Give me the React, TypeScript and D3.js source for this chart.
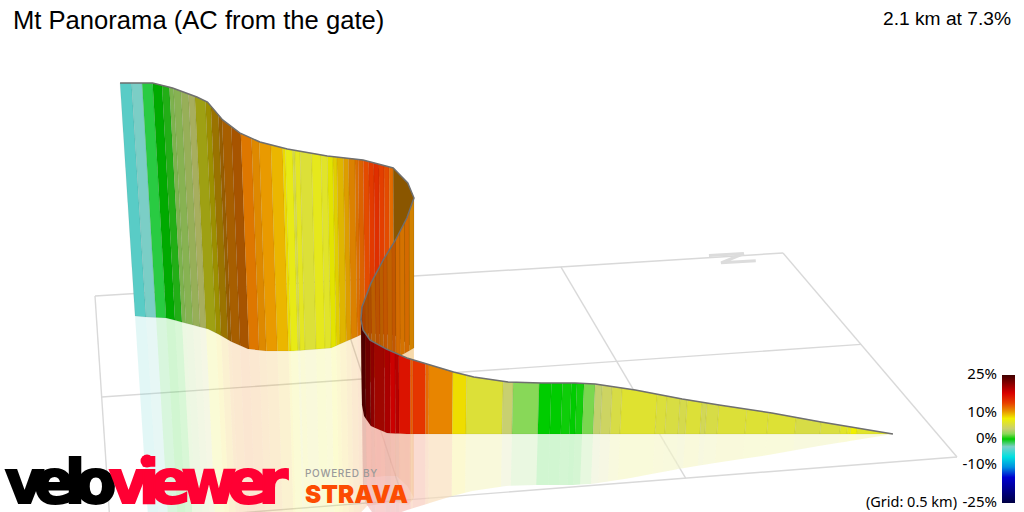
import * as d3 from "d3";

const W = 1024;
const H = 512;

// route stations, start of the climb first (km on the floor grid, metres of climb)
const routeEast = [1.42, 1.2887, 1.1988, 1.1034, 1.0368, 0.9522, 0.8801, 0.8441, 0.7847, 0.7253, 0.6641, 0.6281, 0.5867, 0.5453, 0.5099, 0.4851, 0.4782, 0.4809, 0.4905, 0.515, 0.5457, 0.5759, 0.6017, 0.6183, 0.6096, 0.5887, 0.5325, 0.4557, 0.3797, 0.329, 0.2927, 0.2642, 0.2396, 0.2214, 0.1775, 0.1406, 0.1004, 0.0785];
const routeNorth = [0.8933, 0.8717, 0.8568, 0.8411, 0.8301, 0.8162, 0.8042, 0.7983, 0.7885, 0.7787, 0.7686, 0.7627, 0.7558, 0.749, 0.739, 0.7056, 0.6619, 0.6146, 0.5584, 0.5077, 0.4568, 0.414, 0.3892, 0.3723, 0.3511, 0.3026, 0.2833, 0.3455, 0.3477, 0.3393, 0.3235, 0.2842, 0.24, 0.2115, 0.1733, 0.1412, 0.1293, 0.1204];
const routeElev = [0, 7, 12.2, 16.8, 20.3, 25.5, 29, 29.6, 29.6, 30.1, 33, 35.9, 40, 44.1, 48.7, 50.2, 50.7, 51, 51.3, 59.3, 66.8, 73.7, 84.2, 94.7, 102, 106.8, 110.9, 121.2, 127.1, 131.5, 136.2, 141, 148.5, 149.3, 152.2, 153, 152.5, 152];

// gradient bands along the route: where each one ends (km) and its gradient (%)
const bandEnd = [
  0.066, 0.078, 0.084, 0.097, 0.133, 0.179, 0.23, 0.27, 0.321, 0.343, 0.352, 0.379, 0.392, 0.416, 0.434, 0.498, 0.516, 0.534, 0.547, 0.567, 0.58, 0.59, 0.606, 0.626, 0.648, 0.695, 0.713, 0.779, 0.804, 0.847, 0.853, 0.876, 0.88, 0.901, 0.908, 0.917, 0.929, 0.955, 0.965, 0.996, 1.056,
  1.08, 1.113, 1.13, 1.15, 1.169, 1.19, 1.21, 1.229, 1.245, 1.265, 1.281, 1.295, 1.31, 1.325, 1.341,
  1.417, 1.425, 1.435, 1.445, 1.455, 1.465, 1.476, 1.49, 1.499, 1.517, 1.531, 1.549, 1.56, 1.575, 1.587, 1.605, 1.627, 1.637, 1.641, 1.655, 1.66, 1.682, 1.704, 1.719, 1.74, 1.766, 1.793, 1.805, 1.83, 1.848, 1.88, 1.895, 1.913, 1.931, 1.941, 1.959, 1.982, 2.003, 2.024, 2.06,
];
const bandGrade = [
  6.5, 8, 7, 6.6, 5.7, 5.5, 6.1, 6.1, 6, 5.5, 5, 6, 5.3, 5.6, 5.9, 6.3, 5.5, 4.5, 3.8, 1.8, 0.3, 0, 0.2, 0, 0, 2, 4, 6, 8.6, 11.4, 12.5, 14.7, 13, 16.8, 19.5, 18.5, 19.5, 17.5, 19, 18, 21,
  13.5, 13, 13, 12.5, 12.5, 12, 12.5, 12, 12.5, 12, 12.5, 12, 11.7, 12, 11,
  11, 12.3, 13.5, 14, 15, 14.3, 13.5, 12.5, 12, 11.3, 10.3, 9.5, 8.7, 8, 6.5, 7, 6, 6.8, 5.5, 7.2, 8.6, 9.8, 10.7, 11, 11.7, 12, 11.5, 11, 10, 8.7, 7, 4, 3.4, 2.8, 2.4, 0.6, 0, -1, -3, -4,
];
// the part of the route in front of the hairpin
const frontEndKm = 1.056;

// colour ramp of the legend
const rampGrade = [-25, -15, -11, -7, -3, 0, 2, 4, 8, 11, 14, 18, 25];
const rampColor = ["#000044", "#0000d0", "#0090e0", "#00e0e0", "#7cd0c8", "#00cc00", "#88d858", "#c8d070", "#f0f000", "#e89000", "#e84000", "#d80000", "#400000"];
const legendTicks = [25, 10, 0, -10, -25];

// floor grid: 0.5 km cells, corners as seen on screen
const gridEast = [0, 0.5, 1, 1.5];
const gridNorth = [0, 0.5, 1];
const floorCorners = [[95, 296], [783, 253], [957, 457], [110, 523]];

// north marker lying on the floor
const markEast = [1.335, 1.414, 1.349, 1.427];
const markNorth = [-0.012, -0.011, 0.034, 0.035];

const [p00, p10, p11, p01] = floorCorners;
const sx = p00[0] - p10[0] + p11[0] - p01[0];
const sy = p00[1] - p10[1] + p11[1] - p01[1];
const dx1 = p10[0] - p11[0];
const dx2 = p01[0] - p11[0];
const dy1 = p10[1] - p11[1];
const dy2 = p01[1] - p11[1];
const den = dx1 * dy2 - dx2 * dy1;
const hg = (sx * dy2 - dx2 * sy) / den;
const hh = (dx1 * sy - sx * dy1) / den;
const ha = p10[0] - p00[0] + hg * p10[0];
const hb = p01[0] - p00[0] + hh * p01[0];
const hd = p10[1] - p00[1] + hg * p10[1];
const he = p01[1] - p00[1] + hh * p01[1];

const sScale = d3.scaleLinear([0, 1.5], [0, 1]);
const tScale = d3.scaleLinear([0, 1], [0, 1]);

function floor(east: number, north: number) {
  const s = sScale(east);
  const t = tScale(north);
  const w = hg * s + hh * t + 1;
  return { x: (ha * s + hb * t + p00[0]) / w, y: (hd * s + he * t + p00[1]) / w, w };
}

const pxPerMetre = 1.5;
const vanishX = 414;
const vanishY = 4650;

function place(east: number, north: number, elev: number) {
  const b = floor(east, north);
  const rise = (elev * pxPerMetre) / b.w;
  const lean = (b.x - vanishX) / (vanishY - b.y);
  return {
    base: [b.x, b.y] as [number, number],
    top: [b.x + lean * rise, b.y - rise] as [number, number],
    mirror: [b.x - lean * rise, b.y + rise] as [number, number],
  };
}

const routeKm = [0];
d3.pairs(d3.range(routeEast.length)).forEach(([i, j]) => {
  routeKm.push(routeKm[i] + Math.hypot(routeEast[j] - routeEast[i], routeNorth[j] - routeNorth[i]));
});
const totalKm = routeKm[routeKm.length - 1];

const eastAt = d3.scaleLinear(routeKm, routeEast);
const northAt = d3.scaleLinear(routeKm, routeNorth);
const elevAt = d3.scaleLinear(routeKm, routeElev);
const colour = d3.scaleLinear<string>(rampGrade, rampColor).interpolate(d3.interpolateRgb);

// wall brightness from the way the segment faces
function shadeAt(km: number) {
  const e = 0.001;
  const de = eastAt(Math.min(km + e, totalKm)) - eastAt(Math.max(km - e, 0));
  const dn = northAt(Math.min(km + e, totalKm)) - northAt(Math.max(km - e, 0));
  const len = Math.hypot(de, dn) || 1;
  let nx = dn / len;
  let ny = -de / len;
  if (ny < 0) {
    nx = -nx;
    ny = -ny;
  }
  const dot = nx * 0.12 + ny * 0.993;
  return Math.max(0.5, Math.min(1, 0.42 + 0.62 * dot));
}

const closed = d3.line().curve(d3.curveLinearClosed);
const open = d3.line();

const bands = bandEnd.map((end, i) => {
  const start = i === 0 ? 0 : bandEnd[i - 1];
  const stop = Math.min(end, totalKm);
  const kms = [start, ...routeKm.filter((k) => k > start && k < stop), stop];
  const spots = kms.map((k) => place(eastAt(k), northAt(k), elevAt(k)));
  const c = d3.rgb(colour(bandGrade[i]));
  const shade = shadeAt((start + stop) / 2);
  return {
    key: i,
    front: stop <= frontEndKm,
    fill: d3.rgb(c.r * shade, c.g * shade, c.b * shade).formatHex(),
    pale: c.formatHex(),
    wall: closed([...spots.map((p) => p.top), ...spots.map((p) => p.base).reverse()]) as string,
    mirror: closed([...spots.map((p) => p.mirror), ...spots.map((p) => p.base).reverse()]) as string,
  };
});
const bandsBackFirst = [...bands].reverse();

const topLine = open(routeKm.map((_, i) => place(routeEast[i], routeNorth[i], routeElev[i]).top)) as string;

const gridLines = [
  ...gridEast.map((e) => [floor(e, 0), floor(e, 1)]),
  ...gridNorth.map((n) => [floor(0, n), floor(1.5, n)]),
].map((pair) => open(pair.map((p) => [p.x, p.y] as [number, number])) as string);

const markLine = open(markEast.map((e, i) => {
  const p = floor(e, markNorth[i]);
  return [p.x, p.y] as [number, number];
})) as string;

const legendY = d3.scaleLinear([25, -25], [375, 503]);

export default function App() {
  return (
    <svg width={W} height={H} viewBox={`0 0 ${W} ${H}`} style={{ position: "absolute", left: 0, top: 0, background: "#fff" }}>
      <defs>
        <linearGradient id="ramp" x1="0" x2="0" y1="0" y2="1">
          {rampGrade.map((g, i) => ({ g, c: rampColor[i] })).reverse().map(({ g, c }) => (
            <stop key={g} offset={(25 - g) / 50} stopColor={c} />
          ))}
        </linearGradient>
      </defs>

      {gridLines.map((d, i) => (
        <path key={i} d={d} fill="none" stroke="#d9d9d9" strokeWidth={1.4} />
      ))}
      <path d={markLine} fill="none" stroke="#dcdcdc" strokeWidth={3} />

      {bandsBackFirst.filter((b) => !b.front).map((b) => (
        <path key={b.key} d={b.mirror} fill={b.pale} fillOpacity={0.18} stroke="none" />
      ))}
      {/* the near part hides the reflection behind it */}
      {bandsBackFirst.filter((b) => b.front).map((b) => (
        <path key={b.key} d={b.mirror} fill="#fff" fillOpacity={0.55} stroke="none" />
      ))}
      {bandsBackFirst.filter((b) => b.front).map((b) => (
        <path key={b.key} d={b.mirror} fill={b.pale} fillOpacity={0.18} stroke="none" />
      ))}
      {bandsBackFirst.map((b) => (
        <path key={b.key} d={b.wall} fill={b.fill} stroke="#000" strokeOpacity={0.1} strokeWidth={0.5} />
      ))}
      <path d={topLine} fill="none" stroke="#6f6f6f" strokeWidth={1.5} />

      <text x={13} y={29} fontFamily="Liberation Sans" fontSize={25.6} fill="#000">Mt Panorama (AC from the gate)</text>
      <text x={1011} y={25} textAnchor="end" fontFamily="Liberation Sans" fontSize={19.2} fill="#000">2.1 km at 7.3%</text>

      <rect x={1002} y={375} width={13} height={128} fill="url(#ramp)" />
      {legendTicks.map((g) => (
        <text key={g} x={997} y={legendY(g) + 4} textAnchor="end" fontFamily="Noto Sans" fontSize={15} fill="#000">{g}%</text>
      ))}
      <text x={957} y={507} textAnchor="end" fontFamily="Noto Sans" fontSize={14.5} fill="#000">(Grid: 0.5 km)</text>

      <text x={5} y={503} fontFamily="DejaVu Sans" fontWeight={700} fontSize={60} letterSpacing={-10} fill="#000" stroke="#000" strokeWidth={2}>velo</text>
      <text x={109} y={503} fontFamily="DejaVu Sans" fontWeight={700} fontSize={60} letterSpacing={-9.4} fill="#ff0033" stroke="#ff0033" strokeWidth={2}>viewer</text>
      <circle cx={147} cy={461} r={6.5} fill="#ff0033" />
      <text x={305} y={477} fontFamily="Inter" fontSize={10} letterSpacing={0.7} fontWeight={500} fill="#9a9a9a">POWERED BY</text>
      <text x={305} y={503} fontFamily="Inter" fontWeight={900} fontSize={25} textLength={103} lengthAdjust="spacingAndGlyphs" fill="#fc4c02">STRAVA</text>
    </svg>
  );
}
